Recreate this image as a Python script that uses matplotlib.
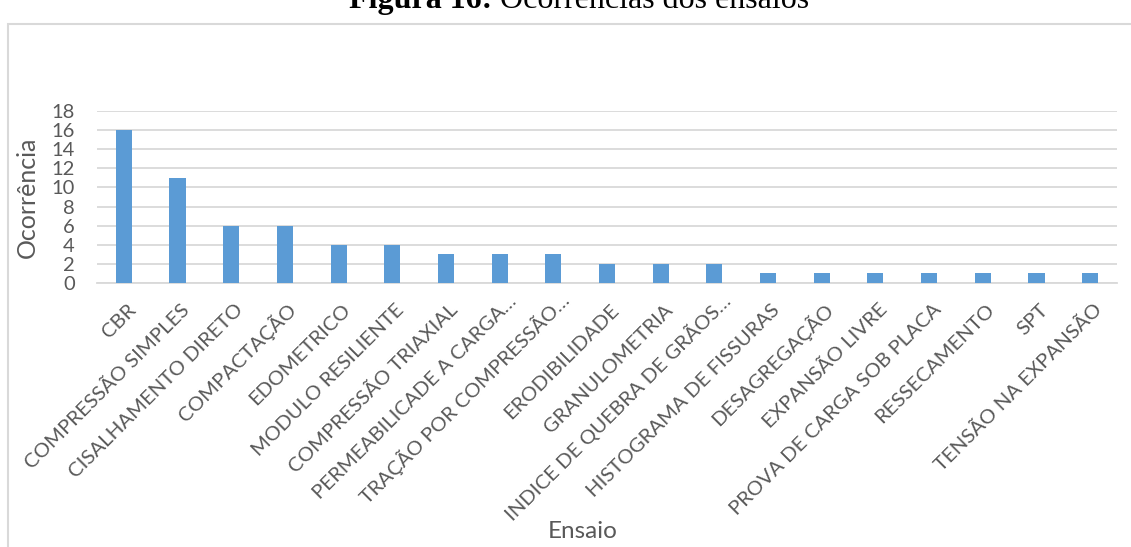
import matplotlib
matplotlib.use("Agg")
import matplotlib.pyplot as plt
from matplotlib.patches import Rectangle
from matplotlib.transforms import ScaledTranslation

categories = [
    "CBR", "COMPRESSÃO SIMPLES", "CISALHAMENTO DIRETO", "COMPACTAÇÃO",
    "EDOMETRICO", "MODULO RESILIENTE", "COMPRESSÃO TRIAXIAL",
    "PERMEABILICADE A CARGA…", "TRAÇÃO POR COMPRESSÃO…", "ERODIBILIDADE",
    "GRANULOMETRIA", "INDICE DE QUEBRA DE GRÃOS…", "HISTOGRAMA DE FISSURAS",
    "DESAGREGAÇÃO", "EXPANSÃO LIVRE", "PROVA DE CARGA SOB PLACA",
    "RESSECAMENTO", "SPT", "TENSÃO NA EXPANSÃO",
]
ocorrencias = [16, 11, 6, 6, 4, 4, 3, 3, 3, 2, 2, 2, 1, 1, 1, 1, 1, 1, 1]
yticks = list(range(0, 19, 2))

text_color = "#595959"
grid_color = "#d9d9d9"
bar_color = "#5b9bd5"
font = ["Lato", "DejaVu Sans"]

fig = plt.figure(figsize=(11.31, 5.47), dpi=100)
W, H = 1131, 547

# frame around the chart
fig.patches.append(Rectangle((8 / W, -0.05), 1.2, 1 - 24 / H + 0.05,
                             transform=fig.transFigure, fill=False,
                             edgecolor=grid_color, linewidth=1.5))

# caption above the chart, cut by the top edge
fig.text(492 / W, 1 - 8 / H, "Figura 16:", fontsize=23, fontweight="bold",
         family="Liberation Serif", ha="right", va="baseline")
fig.text(492 / W, 1 - 8 / H, " Ocorrências dos ensaios", fontsize=23,
         family="Liberation Serif", ha="left", va="baseline")

ax = fig.add_axes([97 / W, 1 - 283 / H, (1117 - 97) / W, (283 - 111) / H])
x = list(range(len(categories)))
ax.bar(x, ocorrencias, width=0.3, color=bar_color, zorder=3)
ax.set_xlim(-0.5, len(categories) - 0.5)
ax.set_ylim(0, 18)
ax.set_yticks(yticks)
ax.yaxis.grid(True, color=grid_color, linewidth=1.3, zorder=0)
for s in ["top", "right", "left"]:
    ax.spines[s].set_visible(False)
ax.spines["bottom"].set_color(grid_color)
ax.spines["bottom"].set_linewidth(1.3)
ax.tick_params(axis="both", length=0, colors=text_color)
ax.tick_params(axis="y", pad=16)
ax.set_xticks(x)
ax.set_xticklabels([])
for lab in ax.get_yticklabels():
    lab.set_family(font)
    lab.set_fontsize(14.5)

# category labels: baseline end placed below each bar; shortened labels
# sit a little further along their own direction
for xi, name in zip(x, categories):
    dx, dy = (18, -19) if name.endswith("…") else (13, -28)
    shift = ScaledTranslation(dx / 100, dy / 100, fig.dpi_scale_trans)
    ax.text(xi, 0, name, transform=ax.get_xaxis_transform() + shift,
            rotation=45, rotation_mode="anchor", ha="right", va="baseline",
            family=font, fontsize=14.7, color=text_color)

ax.set_ylabel("Ocorrência", family=font, fontsize=18, color=text_color)
ax.yaxis.set_label_coords(-58 / (1117 - 97), 0.5)
fig.text(583 / W, 1 - 532 / H, "Ensaio", family=font, fontsize=17.5,
         color=text_color, ha="center", va="center")

fig.savefig("out.png", dpi=100)
